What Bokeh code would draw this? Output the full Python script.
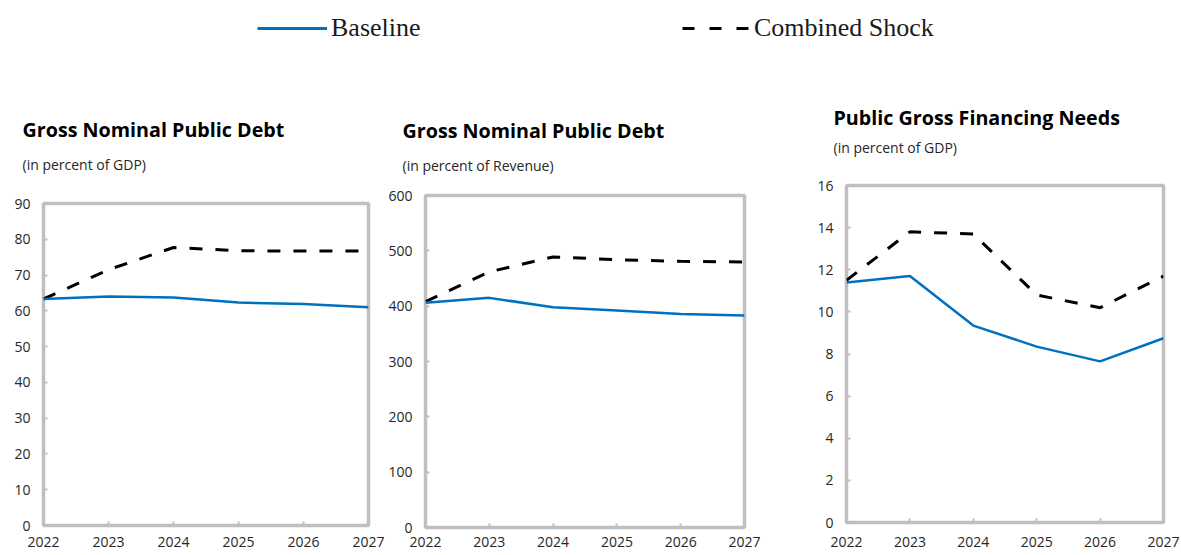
import numpy as np
from bokeh.plotting import figure
from bokeh.layouts import column, row
from bokeh.models import Range1d, FixedTicker, Title, Legend, LegendItem
from bokeh.embed import file_html
from bokeh.resources import INLINE

# ---------------- data ----------------
years = [2022, 2023, 2024, 2025, 2026, 2027]

debt_gdp_baseline = [63.3, 64.0, 63.7, 62.3, 61.9, 61.0]
debt_gdp_shock = [63.3, 71.5, 77.7, 76.8, 76.7, 76.7]

debt_rev_baseline = [406, 415, 398, 392, 386, 383]
debt_rev_shock = [408, 462, 489, 484, 481, 480]

gfn_baseline = [11.4, 11.7, 9.35, 8.35, 7.65, 8.75]
gfn_shock = [11.5, 13.8, 13.7, 10.8, 10.2, 11.7]

titles = ["Gross Nominal Public Debt", "Gross Nominal Public Debt", "Public Gross Financing Needs"]
subtitles = ["(in percent of GDP)", "(in percent of Revenue)", "(in percent of GDP)"]
y_max = [90, 600, 16]
y_step = [10, 100, 2]
legend_labels = ["Baseline", "Combined Shock"]

# ---------------- style ----------------
BLUE = "#0070C0"
GREY = "#BFBFBF"
TXT = "#262626"
SANS = "Open Sans"

# w/h: figure size; bl/br/bt/bb: borders around the frame;
# off: title x offset; sp: spacer standoff; s1: subtitle standoff; xs: x label standoff
panels = [
    dict(w=385, h=460, bl=43, br=17, bt=108, bb=30, off=-21, sp=15.0, s1=22.2, xs=11),
    dict(w=405, h=460, bl=38, br=46, bt=100, bb=28, off=-23, sp=8.0, s1=19.6, xs=9),
    dict(w=390, h=460, bl=56, br=17, bt=90, bb=33, off=-13, sp=19.3, s1=12.2, xs=14),
]

series = [
    (debt_gdp_baseline, debt_gdp_shock),
    (debt_rev_baseline, debt_rev_shock),
    (gfn_baseline, gfn_shock),
]


def no_align(fig):
    try:
        fig.frame_align = False
    except Exception:
        pass


figs = []
for i, g in enumerate(panels):
    p = figure(width=g["w"], height=g["h"], toolbar_location=None, output_backend="svg",
               x_range=Range1d(years[0], years[-1]), y_range=Range1d(0, y_max[i]),
               min_border_left=g["bl"], min_border_right=g["br"],
               min_border_top=g["bt"], min_border_bottom=g["bb"])
    no_align(p)
    p.outline_line_color = GREY
    p.outline_line_width = 3.5
    p.xgrid.grid_line_color = None
    p.ygrid.grid_line_color = None
    p.xaxis.ticker = FixedTicker(ticks=years)
    p.yaxis.ticker = FixedTicker(ticks=list(range(0, y_max[i] + 1, y_step[i])))
    for ax in (p.xaxis[0], p.yaxis[0]):
        ax.axis_line_color = None
        ax.major_tick_in = 4
        ax.major_tick_out = 0
        ax.major_tick_line_color = GREY
        ax.major_tick_line_width = 2
        ax.minor_tick_line_color = None
        ax.major_label_text_font = SANS
        ax.major_label_text_font_size = "14px"
        ax.major_label_text_color = TXT
    p.yaxis[0].major_label_standoff = 13
    p.xaxis[0].major_label_standoff = g["xs"]
    base, shock = series[i]
    p.line(years, shock, line_color="black", line_width=3, line_dash="13 13")
    p.line(years, base, line_color=BLUE, line_width=2.5)
    # white (invisible) spacer nearest to the frame, then subtitle, then title
    p.add_layout(Title(text=".", align="left", standoff=g["sp"], text_font=SANS,
                       text_font_size="2px", text_color="#ffffff"), "above")
    p.add_layout(Title(text=subtitles[i], align="left", offset=g["off"], standoff=g["s1"],
                       text_font=SANS, text_font_size="14px", text_font_style="normal",
                       text_color=TXT), "above")
    p.add_layout(Title(text=titles[i], align="left", offset=g["off"], standoff=0,
                       text_font=SANS, text_font_size="19.7px", text_font_style="bold",
                       text_color="#000000"), "above")
    figs.append(p)

# ---------------- legend strip ----------------
lf = figure(width=1180, height=95, toolbar_location=None, output_backend="svg",
            x_range=Range1d(0, 1), y_range=Range1d(0, 1),
            x_axis_type=None, y_axis_type=None, min_border=0)
no_align(lf)
lf.outline_line_color = None
lf.xgrid.grid_line_color = None
lf.ygrid.grid_line_color = None
nan = np.array([np.nan])
r_base = lf.line(x=nan, y=nan, line_color=BLUE, line_width=3)
r_shock = lf.line(x=nan, y=nan, line_color="black", line_width=3, line_dash="12 15")

for lab, rend, loc, gw in [(legend_labels[0], r_base, (257, 52), 70),
                           (legend_labels[1], r_shock, (682, 52), 68)]:
    lg = Legend(items=[LegendItem(label=lab, renderers=[rend])], location=loc,
                orientation="horizontal", padding=0, margin=0, spacing=0,
                glyph_width=gw, glyph_height=30, label_height=30, label_standoff=4,
                label_text_font="Liberation Serif", label_text_font_size="26px",
                label_text_color="#1a1a1a", border_line_color=None,
                background_fill_alpha=0)
    lf.add_layout(lg, "center")

layout = column(lf, row(*figs, spacing=0), spacing=0)

open("out.html", "w").write(file_html(layout, INLINE))
